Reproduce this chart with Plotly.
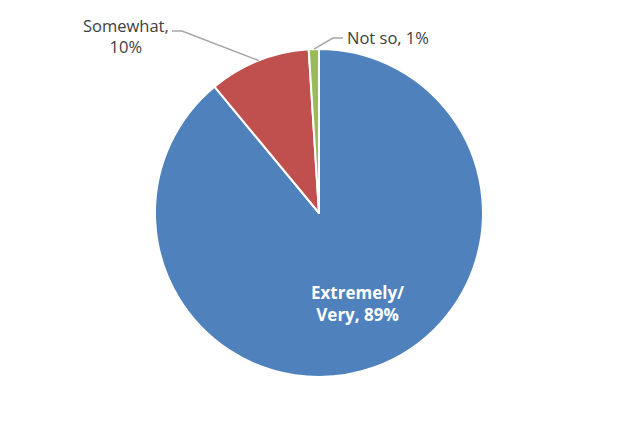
import math
import plotly.graph_objects as go

labels = ["Extremely/<br>Very", "Somewhat", "Not so"]
values = [89, 10, 1]
colors = ["#4F81BD", "#C0504D", "#9BBB59"]

W, H = 639, 429
OFF = 8  # page body margin
CX, CY, R = 319, 213, 164

def px(x, y):
    return (x - OFF) / W, 1 - (y - OFF) / H

d0 = px(CX - R, CY + R)
d1 = px(CX + R, CY - R)

fig = go.Figure(go.Pie(
    labels=labels, values=values, sort=False, direction="clockwise", rotation=0,
    marker=dict(colors=colors, line=dict(color="white", width=2)),
    textinfo="none", hoverinfo="label+percent", showlegend=False,
    domain=dict(x=[d0[0], d1[0]], y=[d0[1], d1[1]]),
))

total = sum(values)
cum = 0
mids = []
for v in values:
    mids.append(math.radians((cum + v / 2) / total * 360))
    cum += v

def edge(a, rr=R):
    return CX + rr * math.sin(a), CY - rr * math.cos(a)

annotations = []
shapes = []

# inside label for the large slice
ix, iy = edge(mids[0] - math.radians(3.5), 0.6 * R)
x, y = px(ix, iy)
annotations.append(dict(x=x, y=y, xref="paper", yref="paper", showarrow=False,
                        xanchor="center", yanchor="middle",
                        text=f"<b>{labels[0]}, {values[0]}%</b>",
                        font=dict(family="Open Sans", size=17, color="white"), align="center"))

# outside labels with leader lines
ex, ey = edge(mids[1])
pts = [(ex, ey), (182, 31), (172, 31)]
path = "M " + " L ".join(f"{px(a, b)[0]},{px(a, b)[1]}" for a, b in pts)
shapes.append(dict(type="path", path=path, xref="paper", yref="paper",
                   line=dict(color="#A6A6A6", width=1.5)))
x, y = px(171, 36)
annotations.append(dict(x=x, y=y, xref="paper", yref="paper", showarrow=False,
                        xanchor="right", yanchor="middle",
                        text=f"{labels[1]},<br>{values[1]}%",
                        font=dict(family="Open Sans", size=16.5, color="#404040"), align="center"))

ex, ey = edge(mids[2])
pts = [(ex, ey), (333, 38), (343, 38)]
path = "M " + " L ".join(f"{px(a, b)[0]},{px(a, b)[1]}" for a, b in pts)
shapes.append(dict(type="path", path=path, xref="paper", yref="paper",
                   line=dict(color="#A6A6A6", width=1.5)))
x, y = px(345, 38)
annotations.append(dict(x=x, y=y, xref="paper", yref="paper", showarrow=False,
                        xanchor="left", yanchor="middle",
                        text=f"{labels[2]}, {values[2]}%",
                        font=dict(family="Open Sans", size=16.5, color="#404040")))

fig.update_layout(width=W, height=H, margin=dict(l=0, r=0, t=0, b=0),
                  paper_bgcolor="white", plot_bgcolor="white",
                  annotations=annotations, shapes=shapes)
fig.write_html("out.html")
